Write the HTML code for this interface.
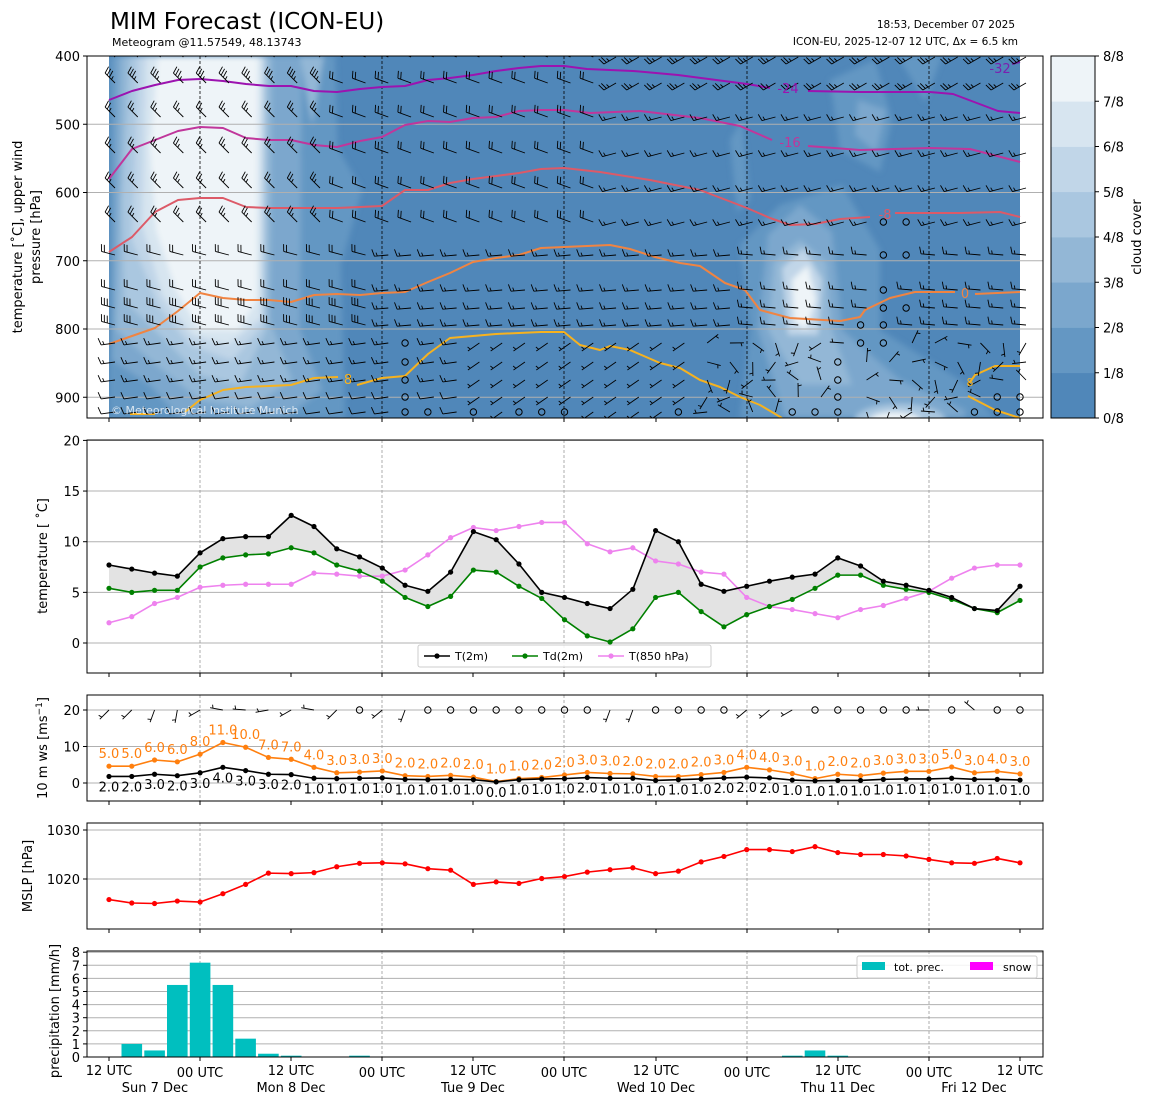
<!DOCTYPE html>
<html><head><meta charset="utf-8">
<style>
html,body{margin:0;padding:0;background:#fff;}
svg{display:block;font-family:"DejaVu Sans","Liberation Sans",sans-serif;}
</style></head>
<body>
<svg id="s" xmlns="http://www.w3.org/2000/svg" width="1155" height="1105" viewBox="0 0 1155 1105">
<defs>
<clipPath id="cp1"><rect x="109" y="56" width="911" height="362"/></clipPath>
<clipPath id="cpp"><rect x="87" y="56" width="956" height="362"/></clipPath>
<filter id="bl" x="-10%" y="-10%" width="120%" height="120%"><feGaussianBlur stdDeviation="3"/></filter>
</defs>
<g id="g"></g>
</svg>
<script>
let out="";
const X=i=>109+i*22.775;
const L=87,R=1043;
function txt(x,y,s,opt){opt=opt||{};out+=`<text x="${x}" y="${y}" font-size="${opt.fs||13}" fill="${opt.fill||'#000'}" text-anchor="${opt.a||'start'}" ${opt.tr?`transform="${opt.tr}"`:''} ${opt.extra||''}>${s}</text>`;}
function line(x1,y1,x2,y2,st,w,da){out+=`<line x1="${x1}" y1="${y1}" x2="${x2}" y2="${y2}" stroke="${st}" stroke-width="${w||1}" ${da?`stroke-dasharray="${da}"`:''}/>`;}
function poly(pts,st,w,extra){out+=`<polyline points="${pts.map(p=>p.join(',')).join(' ')}" fill="none" stroke="${st}" stroke-width="${w||1.5}" stroke-linejoin="round" ${extra||''}/>`;}
function fillp(pts,c){out+=`<polygon points="${pts.map(p=>p.join(',')).join(' ')}" fill="${c}"/>`;}
const dayx=[200,382,564,747,929], tickx=[109,200,291,382,473,564,656,747,838,929,1020];

txt(110,29,"MIM Forecast (ICON-EU)",{fs:23});
txt(112,46,"Meteogram @11.57549, 48.13743",{fs:11});
txt(1015,28,"18:53, December 07 2025",{fs:10.5,a:"end"});
txt(1018,45,"ICON-EU, 2025-12-07 12 UTC, Δx = 6.5 km",{fs:10.5,a:"end"});

const C=["#5087b9","#6497c3","#7ba7cd","#93b7d6","#aac7e0","#c1d6e8","#d7e5f0","#eef4f8"];
out+=`<g clip-path="url(#cp1)"><rect x="109" y="56" width="911" height="362" fill="${C[0]}"/><g filter="url(#bl)">`;
fillp([[109,56],[335,56],[345,418],[109,418]],C[1]);
fillp([[116,56],[302,56],[300,330],[322,390],[285,418],[180,418],[150,385],[112,360]],C[2]);
fillp([[122,56],[272,56],[270,320],[292,380],[250,408],[200,400],[150,360],[116,330],[118,250]],C[3]);
fillp([[130,56],[266,56],[266,330],[240,385],[200,375],[160,335],[124,300],[122,200]],C[4]);
fillp([[138,56],[264,56],[263,325],[232,360],[190,345],[158,305],[132,240]],C[5]);
fillp([[146,56],[262,56],[261,318],[228,345],[192,335],[162,295],[142,225]],C[6]);
fillp([[158,56],[258,56],[257,300],[238,330],[200,330],[176,290],[156,230],[150,150]],C[7]);
fillp([[300,56],[324,56],[312,125]],C[3]);
fillp([[300,150],[330,135],[362,190],[342,262],[310,232]],C[1]);
fillp([[740,245],[780,205],[842,185],[880,250],[880,330],[960,380],[995,418],[740,418],[750,330]],C[1]);
fillp([[768,235],[800,205],[832,232],[842,330],[900,380],[965,410],[965,418],[785,418],[758,330]],C[2]);
fillp([[774,262],[800,240],[826,262],[832,330],[852,385],[800,385],[768,330]],C[3]);
fillp([[782,268],[804,248],[822,280],[818,335],[788,335]],C[5]);
fillp([[792,280],[808,265],[816,300],[806,330],[794,322]],C[7]);
out+=`<ellipse cx="900" cy="420" rx="45" ry="16" fill="${C[4]}"/><ellipse cx="895" cy="420" rx="25" ry="8" fill="${C[7]}"/>`;
fillp([[830,80],[875,60],[892,120],[880,172],[840,150]],C[1]);
fillp([[858,100],[886,110],[876,152],[855,135]],C[2]);
fillp([[898,56],[942,56],[925,102]],C[1]);
fillp([[730,140],[742,120],[750,200],[737,212]],C[1]);
out+=`</g></g>`;
const PY=p=>56+(p-400)*0.6825;
[500,600,700,800,900].forEach(p=>line(L,PY(p),R,PY(p),"#b0b0b0",1));
dayx.forEach(x=>line(x,56,x,418,"#000",0.8,"3,2"));
const cont=[
 ["#9c13b0",[[109,100],[132,91],[155,85],[178,80],[200,79],[223,81],[246,84],[269,86],[291,86],[314,91],[337,92],[360,89],[382,87],[405,86],[428,80],[450,78],[473,75],[496,71],[519,68],[541,66],[564,66],[587,69],[610,70],[633,71],[656,73],[678,75],[701,78],[724,81],[747,84],[770,88]]],
 ["#9c13b0",[[808,91],[860,92],[930,92],[953,94],[998,111],[1020,113]]],
 ["#7a20b0",[[1012,64],[1020,62]]],
 ["#c0369b",[[109,179],[132,149],[155,140],[178,131],[200,127],[223,128],[246,138],[269,140],[291,140],[314,145],[337,147],[360,141],[382,137],[405,125],[428,121],[450,122],[473,118],[496,117],[519,111],[541,110],[564,110],[590,113],[640,111],[700,118],[740,126],[772,140]]],
 ["#c0369b",[[808,146],[860,150],[930,148],[970,149],[1020,162]]],
 ["#dc5a68",[[109,252],[132,237],[155,212],[178,200],[200,198],[223,198],[246,207],[269,208],[291,208],[314,208],[337,208],[360,207],[382,206],[405,190],[428,190],[450,183],[473,179],[496,176],[519,173],[541,169],[564,168],[600,172],[650,180],[700,190],[747,208],[770,218],[790,225],[815,224],[840,219],[870,217]]],
 ["#dc5a68",[[895,213],[960,213],[1000,212],[1020,217]]],
 ["#f08442",[[109,344],[132,336],[155,328],[178,311],[200,293],[223,298],[246,300],[269,300],[291,302],[314,295],[337,294],[360,295],[382,293],[405,292],[428,282],[450,273],[473,262],[496,258],[519,255],[541,248],[564,247],[610,245],[630,249],[655,257],[680,263],[700,266],[725,283],[745,290],[760,310],[790,318],[840,321],[860,317],[865,310],[890,298],[915,292],[955,292]]],
 ["#f08442",[[975,294],[1020,292]]],
 ["#f6b21f",[[130,414],[155,414]]],
 ["#f6b21f",[[185,412],[200,400],[223,390],[246,387],[269,386],[291,385],[314,378],[338,377]]],
 ["#f6b21f",[[357,385],[382,378],[405,376],[428,354],[450,338],[473,336],[496,334],[519,333],[541,332],[564,332],[580,345],[600,350],[610,346],[630,350],[660,363],[680,368],[700,380],[720,387],[740,397],[760,405],[782,418]]],
 ["#f6b21f",[[968,385],[975,375],[995,366],[1020,366]]],
 ["#f6b21f",[[968,396],[995,410],[1020,418]]]
];
out+=`<g clip-path="url(#cpp)">`;
cont.forEach(c=>poly(c[1],c[0],2));

function barb(x,y,dir,spd,len){
  len=len||16;
  if(spd<2.5){out+=`<circle cx="${x}" cy="${y}" r="3.2" fill="none" stroke="#000" stroke-width="1"/>`;return;}
  const r=dir*Math.PI/180;const dx=Math.sin(r),dy=-Math.cos(r);
  const ex=x+len*dx,ey=y+len*dy;
  let s=`M${x},${y}L${ex.toFixed(1)},${ey.toFixed(1)}`;
  let n10=Math.floor(spd/10),n5=(spd%10)>=5?1:0;
  const fx=-dy,fy=dx;
  let pos=0;
  for(let k=0;k<n10;k++){const bx=ex-dx*pos*3,by=ey-dy*pos*3;s+=`M${bx.toFixed(1)},${by.toFixed(1)}l${(7*fx+2*dx).toFixed(1)},${(7*fy+2*dy).toFixed(1)}`;pos++;}
  if(n5){if(pos==0)pos=1;const bx=ex-dx*pos*3,by=ey-dy*pos*3;s+=`M${bx.toFixed(1)},${by.toFixed(1)}l${(3.5*fx+1*dx).toFixed(1)},${(3.5*fy+1*dy).toFixed(1)}`;}
  out+=`<path d="${s}" fill="none" stroke="#000" stroke-width="0.9"/>`;
}
const rows=[57,83,117,153,188,222,255,290,308,325,343,362,380,397,412];
const calm=new Set(["13,10","13,11","13,12","13,13","13,14","14,14","16,14","18,14","19,14","20,14","25,14","30,14","31,14","32,11","32,12","32,13","32,14","33,9","33,10","34,5","34,6","34,7","34,8","34,9","34,10","35,5","35,6","35,8","38,14","39,13","39,14","40,13","40,14"]);
for(let r=0;r<rows.length;r++)for(let c=0;c<41;c++){
  const x=X(c)+6,y=rows[r];
  if(calm.has(c+","+r)){barb(X(c),y,0,0);continue;}
  let d,s;
  if(r<=5){ if(c<10){d=315;s=r<2?35:25;} else if(c<22){d=290;s=20;} else {d=r<2?240:255;s=r<2?25:15;} }
  else if(r<=9){ if(c<12){d=285;s=r<8?20:30;} else if(c<28){d=265;s=15;} else {d=275;s=15;} }
  else { if(c<16){d=262;s=r<13?15:10;} else if(c<26){d=235;s=8;} else {d=(c*37+r*53)%360;s=8;} }
  barb(x,y,d,s,14);
}
out+=`</g>`;
txt(788,93,"-24",{fs:13,fill:"#9c13b0",a:"middle"});
txt(1000,73,"-32",{fs:13,fill:"#7a20b0",a:"middle"});
txt(790,147,"-16",{fs:13,fill:"#c0369b",a:"middle"});
txt(885,219,"-8",{fs:13,fill:"#dc5a68",a:"middle"});
txt(965,298,"0",{fs:13,fill:"#f08442",a:"middle"});
txt(348,384,"8",{fs:13,fill:"#f6b21f",a:"middle"});
txt(970,386,"8",{fs:11,fill:"#f6b21f",a:"middle"});
txt(111,414,"© Meteorological Institute Munich",{fs:11,fill:"#ffffff",extra:'fill-opacity="0.75"'});
out+=`<rect x="${L}" y="56" width="${R-L}" height="362" fill="none" stroke="#000" stroke-width="1"/>`;
[400,500,600,700,800,900].forEach(p=>{line(L-4,PY(p),L,PY(p),"#000");txt(80,PY(p)+5,p,{a:"end"});});
tickx.forEach(x=>line(x,418,x,422,"#000"));
txt(22,237,"temperature [˚C], upper wind",{a:"middle",tr:"rotate(-90 22 237)"});
txt(40,237,"pressure [hPa]",{a:"middle",tr:"rotate(-90 40 237)"});
for(let k=0;k<8;k++){out+=`<rect x="1051" y="${(418-(k+1)*45.25).toFixed(1)}" width="44" height="45.6" fill="${C[k]}"/>`;}
out+=`<rect x="1051" y="56" width="44" height="362" fill="none" stroke="#000"/>`;
for(let k=0;k<=8;k++){const y=418-k*45.25;line(1095,y,1099,y,"#000");txt(1103,y+5,k+"/8");}
txt(1141,237,"cloud cover",{a:"middle",tr:"rotate(-90 1141 237)"});

const T=[7.7,7.3,6.9,6.6,8.9,10.3,10.5,10.5,12.6,11.5,9.3,8.5,7.4,5.7,5.1,7.0,11.0,10.2,7.8,5.0,4.5,3.9,3.4,5.3,11.1,10.0,5.8,5.1,5.6,6.1,6.5,6.8,8.4,7.6,6.1,5.7,5.2,4.5,3.4,3.2,5.6];
const TD=[5.4,5.0,5.2,5.2,7.5,8.4,8.7,8.8,9.4,8.9,7.7,7.1,6.1,4.5,3.6,4.6,7.2,7.0,5.6,4.4,2.3,0.7,0.1,1.4,4.5,5.0,3.1,1.6,2.8,3.6,4.3,5.4,6.7,6.7,5.7,5.3,5.0,4.3,3.4,3.0,4.2];
const T8=[2.0,2.6,3.9,4.5,5.5,5.7,5.8,5.8,5.8,6.9,6.8,6.6,6.6,7.2,8.7,10.4,11.4,11.1,11.5,11.9,11.9,9.8,9.0,9.4,8.1,7.8,7.0,6.8,4.5,3.6,3.3,2.9,2.5,3.3,3.7,4.4,5.1,6.4,7.4,7.7,7.7];
const TY=v=>643-10.13*v;
[0,5,10,15,20].forEach(v=>{line(L,TY(v),R,TY(v),"#b0b0b0");line(L-4,TY(v),L,TY(v),"#000");txt(80,TY(v)+5,v,{a:"end"});});
dayx.forEach(x=>line(x,440,x,673,"#999",0.8,"3,2"));
fillp(T.map((v,i)=>[X(i),TY(v)]).concat(TD.map((v,i)=>[X(i),TY(v)]).reverse()),"#e3e3e3");
function series(arr,f,col,r){poly(arr.map((v,i)=>[X(i),f(v)]),col,1.6);arr.forEach((v,i)=>out+=`<circle cx="${X(i)}" cy="${f(v)}" r="${r||2.6}" fill="${col}"/>`);}
series(T8,TY,"#ee82ee");series(TD,TY,"#008000");series(T,TY,"#000");
out+=`<rect x="${L}" y="440" width="${R-L}" height="233" fill="none" stroke="#000"/>`;
tickx.forEach(x=>line(x,673,x,677,"#000"));
txt(47,556,"temperature [ ˚C]",{a:"middle",tr:"rotate(-90 47 556)"});
out+=`<rect x="418" y="645" width="293" height="22" rx="2" fill="#fff" fill-opacity="0.85" stroke="#ccc"/>`;
[[424,"#000","T(2m)"],[512,"#008000","Td(2m)"],[598,"#ee82ee","T(850 hPa)"]].forEach(l=>{line(l[0],656,l[0]+26,656,l[1],1.5);out+=`<circle cx="${l[0]+13}" cy="656" r="2.6" fill="${l[1]}"/>`;txt(l[0]+31,660,l[2],{fs:11});});

const WY=v=>783-3.65*v;
const G=[4.6,4.6,6.3,5.8,7.9,11.1,9.8,7.0,6.5,4.3,2.8,3.0,3.3,2.0,1.8,2.1,1.6,0.4,1.2,1.5,2.2,2.9,2.6,2.5,1.8,1.8,2.3,2.9,4.3,3.6,2.6,1.2,2.4,2.0,2.7,3.2,3.2,4.4,2.8,3.2,2.5];
const GL=[5,5,6,6,8,11,10,7,7,4,3,3,3,2,2,2,2,1,1,2,2,3,3,2,2,2,2,3,4,4,3,1,2,2,3,3,3,5,3,4,3];
const W=[1.8,1.8,2.4,2.0,2.8,4.3,3.4,2.4,2.3,1.3,1.2,1.3,1.4,1.0,0.9,1.0,0.9,0.3,0.9,1.1,1.2,1.5,1.3,1.3,0.7,0.9,1.1,1.4,1.6,1.4,0.8,0.6,0.7,0.7,1.0,1.1,1.1,1.3,1.0,1.0,0.8];
const WL=[2,2,3,2,3,4,3,3,2,1,1,1,1,1,1,1,1,0,1,1,1,2,1,1,1,1,1,2,2,2,1,1,1,1,1,1,1,1,1,1,1];
[0,10,20].forEach(v=>{line(L,WY(v),R,WY(v),"#b0b0b0");line(L-4,WY(v),L,WY(v),"#000");txt(80,WY(v)+5,v,{a:"end"});});
dayx.forEach(x=>line(x,695,x,801,"#999",0.8,"3,2"));
series(G,WY,"#ff7f0e",2.6);series(W,WY,"#000",2.6);
GL.forEach((v,i)=>txt(X(i),WY(G[i])-8,v.toFixed(1),{fs:13,fill:"#ff7f0e",a:"middle"}));
WL.forEach((v,i)=>txt(X(i),WY(W[i])+15,v.toFixed(1),{fs:13,a:"middle"}));
const sd=[225,225,200,190,240,280,275,260,240,280,225,0,230,200,0,0,0,0,0,0,0,0,200,200,0,0,0,0,230,230,240,0,0,0,0,0,270,0,310,0,0];
sd.forEach((d,i)=>{if(d==0)barb(X(i),710,0,0);else barb(X(i),710,d,5,13);});
out+=`<rect x="${L}" y="695" width="${R-L}" height="106" fill="none" stroke="#000"/>`;
tickx.forEach(x=>line(x,801,x,805,"#000"));
txt(47,748,"10 m ws [ms<tspan dy='-5' font-size='9'>−1</tspan><tspan dy='5'>]</tspan>",{a:"middle",tr:"rotate(-90 47 748)"});

const P=[1015.8,1015.1,1015.0,1015.5,1015.3,1017.0,1018.9,1021.2,1021.1,1021.3,1022.5,1023.2,1023.3,1023.1,1022.1,1021.8,1018.9,1019.4,1019.1,1020.1,1020.5,1021.4,1021.9,1022.3,1021.1,1021.6,1023.5,1024.6,1026.0,1026.0,1025.6,1026.6,1025.4,1025.0,1025.0,1024.7,1024.0,1023.3,1023.2,1024.2,1023.3];
const MY=v=>879-4.9*(v-1020);
[1020,1030].forEach(v=>{line(L,MY(v),R,MY(v),"#b0b0b0");line(L-4,MY(v),L,MY(v),"#000");txt(80,MY(v)+5,v,{a:"end"});});
dayx.forEach(x=>line(x,823,x,929,"#999",0.8,"3,2"));
series(P,MY,"#ff0000",2.6);
out+=`<rect x="${L}" y="823" width="${R-L}" height="106" fill="none" stroke="#000"/>`;
tickx.forEach(x=>line(x,929,x,933,"#000"));
txt(32,876,"MSLP [hPa]",{a:"middle",tr:"rotate(-90 32 876)"});

const RY=v=>1057-13.1*v;
for(let v=0;v<=8;v++){line(L,RY(v),R,RY(v),"#b0b0b0");line(L-4,RY(v),L,RY(v),"#000");txt(80,RY(v)+5,v,{a:"end"});}
dayx.forEach(x=>line(x,951,x,1057,"#999",0.8,"3,2"));
const pr={1:1.0,2:0.5,3:5.5,4:7.2,5:5.5,6:1.4,7:0.25,8:0.1,11:0.1,30:0.1,31:0.5,32:0.1};
for(const k in pr){const v=pr[k];out+=`<rect x="${(X(+k)-10.3).toFixed(1)}" y="${RY(v)}" width="20.6" height="${(13.1*v).toFixed(1)}" fill="#00bfbf"/>`;}
out+=`<rect x="${L}" y="951" width="${R-L}" height="106" fill="none" stroke="#000"/>`;
tickx.forEach(x=>line(x,1057,x,1061,"#000"));
out+=`<rect x="857" y="956" width="180" height="22" rx="2" fill="#fff" fill-opacity="0.85" stroke="#ccc"/>`;
out+=`<rect x="862" y="962" width="23" height="8" fill="#00bfbf"/><rect x="970" y="962" width="23" height="8" fill="#ff00ff"/>`;
txt(894,971,"tot. prec.",{fs:11});txt(1003,971,"snow",{fs:11});
txt(59,1011,"precipitation [mm/h]",{a:"middle",tr:"rotate(-90 59 1011)"});
tickx.forEach((x,i)=>txt(x,i%2==0?1075:1077,i%2==0?"12 UTC":"00 UTC",{a:"middle"}));
[[155,"Sun 7 Dec"],[291,"Mon 8 Dec"],[473,"Tue 9 Dec"],[656,"Wed 10 Dec"],[838,"Thu 11 Dec"],[974,"Fri 12 Dec"]].forEach(d=>txt(d[0],1092,d[1],{a:"middle"}));

document.getElementById("g").innerHTML=out;
</script>
</body></html>
